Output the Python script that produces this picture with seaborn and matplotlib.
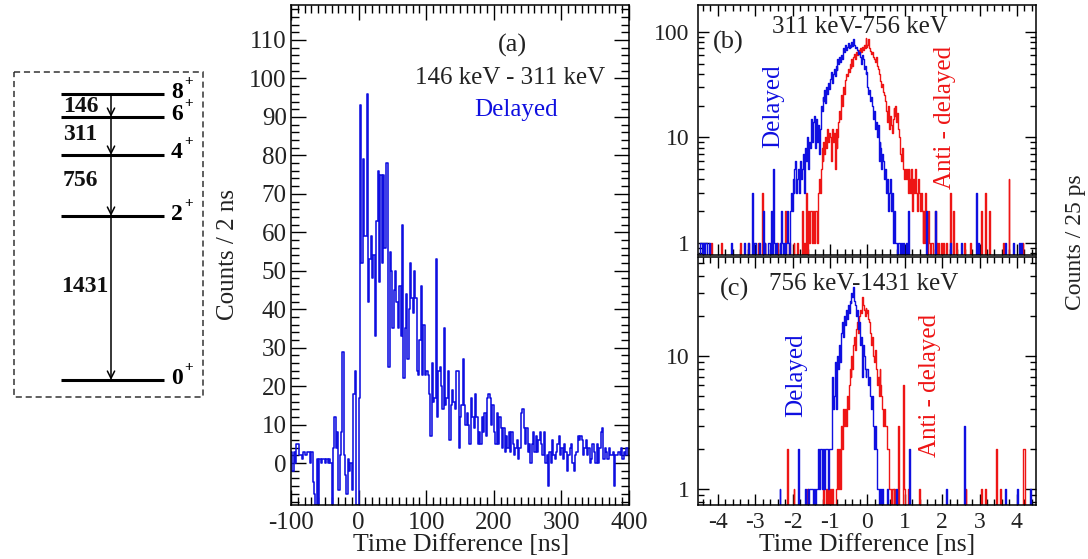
import numpy as np
import pandas as pd
import matplotlib
matplotlib.use("Agg")
import matplotlib.pyplot as plt
import seaborn as sns
from matplotlib.ticker import (MultipleLocator, LogLocator, NullFormatter,
                               FuncFormatter, FixedLocator)
from matplotlib.patches import Rectangle

# ---------------------------------------------------------------- data
# (a) 146-311 keV time difference, 2 ns bins starting at -100 ns
a_start, a_width = -100.0, 2.0
a_counts = [
    3, -2, 3, 0, 5, 5, 2, 2, 1, 3,
    2, 2, 3, 3, 0, 3, -5, -8, -11, 1,
    -11, 1, 0, 1, 1, 0, 1, 0, 1, 0,
    -11, 4, 12, 4, 8, -7, 2, 8, 29, 2,
    -3, -8, 1, -2, 0, -7, 18, 24, -11, -11,
    17, 93, 52, 79, 59, 59, 96, 42, 53, 59,
    48, 54, 33, 63, 76, 47, 75, 52, 75, 56,
    78, 78, 25, 55, 50, 35, 45, 50, 42, 35,
    46, 33, 62, 22, 35, 44, 27, 40, 52, 43,
    39, 50, 43, 24, 23, 32, 46, 23, 36, 23,
    24, 23, 18, 7, 26, 16, 17, 53, 12, 24,
    25, 20, 14, 35, 15, 17, 24, 6, 15, 19,
    16, 14, 24, 24, 4, 12, 15, 27, 15, 10,
    13, 10, 5, 17, 12, 9, 18, 12, 5, 8,
    5, 12, 8, 13, 7, 17, 18, 17, 10, 15,
    8, 5, 13, 5, 12, 9, 4, 9, 3, 7,
    4, 8, 3, 8, 5, 2, 4, 6, 1, 4,
    13, 14, 9, 5, 9, 3, 5, 0, 5, 8,
    3, 7, 3, 6, 8, 5, 2, 8, 0, 2,
    -6, 3, 0, 6, 2, 1, 3, 5, 7, 2,
    4, 1, 5, 3, -2, 2, 4, 5, 0, -2,
    2, 3, 7, 6, 7, 6, 2, 4, 6, 2,
    4, 0, 1, 5, 3, 0, 5, 0, 4, 8,
    9, 1, 4, 3, 1, 4, 2, 2, 3, -6,
    2, 2, 3, 2, 4, 1, 3, 2, 4, 2,
]

# (b), (c) fast-timing spectra, 25 ps bins starting at -4.5 ns
bc_start, bc_width = -4.5, 0.025
b_delayed = [
    0, 1, 1, 0, 1, 0, 1, 1, 0, 0, 0, 1, 0, 0, 0, 0, 0, 0, 0, 0,
    0, 0, 0, 0, 0, 0, 0, 0, 0, 0, 0, 0, 0, 0, 1, 0, 0, 0, 0, 0,
    0, 0, 0, 0, 0, 0, 0, 0, 1, 0, 0, 0, 1, 0, 0, 0, 0, 3, 0, 1,
    1, 0, 0, 0, 1, 0, 0, 0, 2, 0, 1, 0, 0, 0, 1, 1, 0, 2, 0, 5,
    1, 0, 1, 0, 0, 0, 1, 0, 2, 1, 0, 1, 0, 1, 2, 1, 0, 2, 3, 2,
    4, 3, 5, 6, 3, 4, 5, 3, 6, 4, 5, 7, 3, 8, 6, 10, 7, 5, 9, 8,
    15, 9, 14, 16, 8, 15, 9, 13, 7, 12, 20, 18, 24, 22, 28, 21, 30, 26, 33, 29,
    36, 42, 33, 40, 45, 38, 48, 44, 55, 50, 58, 52, 60, 56, 70, 65, 75, 68, 72, 78,
    70, 75, 72, 80, 74, 85, 76, 70, 72, 68, 62, 65, 58, 50, 60, 55, 45, 48, 40, 42,
    30, 26, 28, 22, 24, 20, 15, 18, 12, 14, 10, 13, 6, 9, 8, 5, 7, 6, 4, 5,
    3, 4, 2, 3, 4, 2, 3, 1, 2, 2, 1, 1, 0, 1, 1, 0, 1, 0, 1, 0,
    0, 1, 0, 2, 0, 0, 0, 0, 0, 0, 0, 0, 0, 0, 0, 0, 0, 0, 0, 0,
    0, 0, 0, 2, 0, 0, 0, 0, 0, 0, 0, 0, 2, 0, 0, 0, 0, 0, 0, 0,
    0, 0, 0, 0, 0, 0, 0, 0, 1, 0, 0, 0, 0, 0, 0, 0, 0, 0, 0, 0,
    1, 0, 0, 0, 0, 0, 0, 0, 0, 0, 0, 0, 0, 0, 0, 0, 3, 0, 1, 0,
    0, 0, 0, 0, 0, 0, 0, 0, 0, 0, 0, 0, 0, 0, 0, 0, 0, 0, 0, 0,
    0, 0, 0, 0, 0, 0, 0, 1, 0, 0, 0, 0, 0, 0, 0, 0, 1, 0, 0, 0,
    0, 0, 1, 0, 1, 0, 0, 0, 0, 0, 0, 0, 0, 0, 0, 0, 0, 0, 0, 0,
]
b_anti = [
    0, 0, 0, 0, 0, 0, 0, 0, 0, 0, 0, 0, 0, 1, 0, 0, 0, 0, 0, 0,
    0, 0, 0, 1, 0, 0, 0, 0, 0, 0, 0, 0, 0, 0, 0, 0, 0, 0, 0, 0,
    0, 0, 0, 0, 1, 0, 0, 0, 0, 0, 0, 0, 1, 0, 0, 0, 0, 0, 0, 0,
    0, 0, 0, 1, 0, 0, 0, 3, 0, 0, 1, 0, 0, 0, 0, 0, 0, 0, 0, 0,
    0, 0, 0, 1, 0, 0, 0, 0, 0, 0, 0, 0, 2, 0, 0, 0, 1, 0, 0, 0,
    0, 1, 0, 0, 0, 1, 0, 0, 0, 0, 2, 0, 1, 0, 3, 0, 1, 2, 1, 2,
    2, 1, 2, 1, 2, 2, 1, 3, 4, 3, 5, 8, 6, 9, 7, 10, 8, 12, 9, 11,
    10, 6, 12, 9, 11, 5, 12, 8, 10, 14, 18, 15, 25, 20, 30, 26, 35, 40, 38, 45,
    42, 50, 46, 55, 48, 58, 62, 56, 64, 60, 68, 62, 70, 65, 72, 68, 75, 70, 88, 72,
    75, 85, 70, 66, 62, 65, 58, 55, 52, 58, 48, 45, 40, 36, 34, 30, 32, 27, 25, 22,
    18, 14, 20, 12, 16, 13, 11, 15, 19, 16, 20, 14, 17, 12, 10, 7, 6, 8, 5, 4,
    5, 4, 5, 3, 5, 4, 3, 5, 2, 4, 3, 5, 3, 2, 4, 3, 2, 3, 2, 1,
    2, 1, 3, 1, 0, 2, 1, 0, 1, 1, 0, 0, 2, 0, 1, 0, 1, 0, 0, 1,
    0, 1, 0, 0, 1, 0, 0, 0, 3, 0, 0, 0, 2, 0, 0, 1, 0, 0, 0, 0,
    0, 0, 0, 1, 0, 0, 0, 0, 0, 0, 1, 0, 0, 0, 0, 0, 0, 0, 0, 0,
    0, 0, 2, 0, 0, 0, 3, 0, 0, 0, 2, 0, 0, 0, 0, 0, 0, 0, 0, 0,
    0, 0, 0, 0, 0, 1, 0, 0, 0, 0, 0, 4, 0, 0, 0, 0, 0, 0, 0, 0,
    0, 0, 0, 0, 0, 0, 1, 0, 0, 0, 0, 0, 0, 0, 0, 0, 0, 0, 0, 0,
]
c_delayed = [
    0, 0, 0, 0, 0, 0, 0, 0, 0, 0, 0, 0, 0, 0, 0, 0, 0, 0, 0, 0,
    0, 0, 0, 0, 0, 0, 0, 0, 0, 0, 0, 0, 0, 0, 0, 0, 0, 0, 0, 0,
    0, 0, 0, 0, 0, 0, 0, 0, 0, 0, 0, 0, 0, 0, 0, 0, 0, 0, 0, 0,
    0, 0, 0, 0, 0, 0, 0, 0, 0, 0, 0, 0, 0, 0, 0, 0, 0, 0, 0, 0,
    0, 0, 0, 0, 0, 0, 1, 0, 0, 0, 0, 0, 0, 0, 0, 0, 0, 0, 0, 0,
    0, 0, 0, 0, 0, 0, 2, 0, 0, 0, 0, 0, 0, 1, 0, 0, 1, 0, 1, 1,
    1, 1, 0, 1, 0, 1, 1, 2, 1, 2, 2, 1, 2, 2, 1, 2, 2, 2, 1, 2,
    2, 2, 7, 4, 5, 9, 4, 6, 10, 8, 12, 9, 15, 18, 14, 20, 17, 22, 19, 24,
    21, 26, 25, 30, 28, 33, 26, 24, 20, 22, 16, 18, 12, 14, 7, 12, 10, 8, 7, 8,
    8, 6, 7, 5, 4, 5, 3, 2, 3, 2, 1, 1, 0, 1, 1, 0, 1, 0, 0, 0,
    0, 1, 0, 0, 0, 0, 0, 0, 0, 0, 0, 1, 0, 0, 0, 0, 0, 0, 0, 0,
    0, 0, 0, 0, 0, 2, 0, 0, 0, 0, 0, 0, 0, 0, 0, 0, 0, 0, 0, 0,
    0, 0, 0, 0, 0, 0, 0, 0, 0, 0, 0, 0, 0, 0, 0, 0, 0, 0, 0, 0,
    0, 0, 0, 0, 1, 0, 0, 0, 0, 0, 0, 0, 0, 0, 0, 0, 0, 0, 0, 0,
    0, 0, 0, 3, 0, 0, 0, 0, 0, 0, 0, 0, 0, 0, 0, 0, 0, 0, 0, 0,
    0, 0, 0, 0, 0, 0, 0, 0, 0, 0, 0, 0, 0, 0, 0, 0, 0, 0, 0, 0,
    0, 0, 0, 0, 0, 0, 0, 1, 0, 0, 0, 0, 0, 0, 0, 0, 0, 0, 0, 0,
    1, 0, 0, 0, 0, 0, 0, 0, 0, 0, 0, 0, 0, 0, 1, 0, 0, 0, 0, 0,
]
c_anti = [
    0, 0, 0, 0, 0, 0, 0, 0, 0, 0, 0, 0, 0, 0, 0, 0, 0, 0, 0, 0,
    0, 0, 0, 0, 0, 0, 0, 0, 0, 0, 0, 0, 0, 0, 0, 0, 0, 0, 0, 0,
    0, 0, 0, 0, 0, 0, 0, 0, 0, 0, 0, 0, 0, 0, 0, 0, 0, 0, 0, 0,
    0, 0, 0, 0, 0, 0, 0, 0, 0, 0, 0, 0, 0, 0, 0, 0, 0, 0, 0, 0,
    0, 0, 0, 0, 0, 0, 0, 0, 0, 0, 0, 0, 0, 0, 2, 0, 0, 0, 0, 0,
    0, 1, 0, 0, 0, 0, 0, 0, 0, 0, 0, 0, 0, 0, 0, 1, 0, 0, 0, 0,
    0, 0, 0, 0, 0, 0, 0, 0, 0, 0, 0, 0, 0, 1, 0, 0, 1, 0, 1, 0,
    1, 0, 1, 0, 0, 0, 1, 1, 2, 1, 2, 1, 3, 2, 4, 3, 4, 3, 5, 4,
    6, 8, 7, 10, 8, 12, 14, 11, 16, 18, 15, 20, 22, 21, 28, 24, 22, 20, 23, 21,
    22, 19, 18, 15, 12, 14, 10, 9, 11, 8, 6, 7, 5, 8, 6, 5, 4, 3, 4, 3,
    3, 2, 2, 1, 1, 0, 1, 1, 0, 1, 0, 0, 0, 3, 0, 0, 0, 0, 6, 1,
    0, 0, 0, 1, 0, 0, 0, 0, 0, 0, 0, 0, 0, 0, 0, 1, 0, 0, 0, 0,
    0, 0, 0, 0, 0, 0, 0, 0, 0, 0, 0, 0, 0, 0, 0, 0, 0, 0, 0, 0,
    0, 0, 0, 0, 0, 0, 0, 0, 0, 0, 0, 0, 0, 0, 0, 0, 0, 0, 0, 0,
    0, 0, 0, 0, 0, 1, 0, 0, 0, 0, 0, 0, 0, 0, 0, 0, 0, 0, 0, 0,
    0, 0, 1, 0, 0, 0, 1, 0, 0, 0, 0, 0, 0, 0, 0, 0, 0, 0, 2, 0,
    0, 0, 1, 0, 0, 0, 0, 0, 0, 0, 0, 0, 0, 0, 0, 0, 0, 0, 0, 0,
    0, 0, 0, 0, 0, 0, 0, 2, 2, 0, 0, 0, 0, 0, 0, 0, 0, 0, 0, 0,
]

# level scheme
level_spins = ["0", "2", "4", "6", "8"]
gamma_energies = ["146", "311", "756", "1431"]

# ---------------------------------------------------------------- style
sns.set_theme(style="white")
plt.rcParams["font.family"] = ["Liberation Serif", "DejaVu Serif"]
plt.rcParams["axes.edgecolor"] = "black"
plt.rcParams["axes.linewidth"] = 1.1

BLUE = "#0f0fe0"
RED = "#ee1515"
TXT = "#222222"
FS = 18

fig = plt.figure(figsize=(10.88, 5.59), dpi=100)


def draw_hist(ax, start, width, counts, color, lw):
    """ROOT-like outline histogram: one step per bin edge."""
    counts = np.asarray(counts, dtype=float)
    edges = start + width * np.arange(len(counts) + 1)
    df = pd.DataFrame({"edge": edges,
                       "count": np.append(counts, counts[-1])})
    sns.lineplot(data=df, x="edge", y="count", drawstyle="steps-post",
                 estimator=None, sort=False, color=color, linewidth=lw,
                 ax=ax)


def root_ticks(ax, major_len, minor_len):
    ax.tick_params(which="both", direction="in", top=True, right=True,
                   bottom=True, left=True, colors="black",
                   labelcolor=TXT, labelsize=FS - 1)
    ax.tick_params(which="major", length=major_len, width=1.0)
    ax.tick_params(which="minor", length=minor_len, width=1.0)
    ax.set_xlabel("")
    ax.set_ylabel("")
    for s in ax.spines.values():
        s.set_visible(True)
        s.set_color("black")


int_fmt = FuncFormatter(lambda v, _: f"{v:g}")

# ---------------------------------------------------------------- (a)
ax_a = fig.add_axes([291 / 1088, 1 - 505 / 559, 338 / 1088, 500 / 559])
draw_hist(ax_a, a_start, a_width, a_counts, BLUE, 1.15)
ax_a.set_xlim(-100, 400)
ax_a.set_ylim(-10.9, 119.1)
ax_a.xaxis.set_major_locator(MultipleLocator(100))
ax_a.xaxis.set_minor_locator(MultipleLocator(10))
ax_a.yaxis.set_major_locator(FixedLocator(np.arange(0, 111, 10)))
ax_a.yaxis.set_minor_locator(MultipleLocator(2))
ax_a.xaxis.set_major_formatter(int_fmt)
ax_a.yaxis.set_major_formatter(int_fmt)
root_ticks(ax_a, 11, 5.5)
ax_a.tick_params(axis="x", pad=5, labelsize=FS)
ax_a.tick_params(axis="y", pad=3, labelsize=FS)
ax_a.text(0.654, 0.92, "(a)", transform=ax_a.transAxes, ha="center",
          va="center", fontsize=FS + 1, color=TXT)
ax_a.text(0.648, 0.853, "146 keV - 311 keV", transform=ax_a.transAxes,
          ha="center", va="center", fontsize=FS, color=TXT)
ax_a.text(0.665, 0.79, "Delayed", transform=ax_a.transAxes, ha="center",
          va="center", fontsize=FS, color=BLUE)

# ---------------------------------------------------------------- (b), (c)
def fast_panel(rect, delayed, anti, ylim, show_xlabels):
    ax = fig.add_axes(rect)
    draw_hist(ax, bc_start, bc_width, anti, RED, 1.0)
    draw_hist(ax, bc_start, bc_width, delayed, BLUE, 1.0)
    ax.set_yscale("log")
    ax.set_xlim(-4.53, 4.51)
    ax.set_ylim(*ylim)
    ax.xaxis.set_major_locator(MultipleLocator(1))
    ax.xaxis.set_minor_locator(MultipleLocator(0.2))
    ax.yaxis.set_major_locator(LogLocator(base=10, numticks=10))
    ax.yaxis.set_minor_locator(LogLocator(base=10, subs=np.arange(2, 10),
                                          numticks=20))
    ax.yaxis.set_major_formatter(int_fmt)
    ax.yaxis.set_minor_formatter(NullFormatter())
    ax.xaxis.set_major_formatter(int_fmt)
    root_ticks(ax, 8, 4)
    ax.tick_params(axis="y", pad=6)
    ax.tick_params(axis="x", pad=5, labelbottom=show_xlabels)
    return ax


ax_b = fast_panel([698 / 1088, 1 - 255 / 559, 338 / 1088, 250 / 559],
                  b_delayed, b_anti, (0.77, 180), False)
ax_b.text(0.089, 0.85, "(b)", transform=ax_b.transAxes, ha="center",
          va="center", fontsize=FS + 1, color=TXT)
ax_b.text(0.479, 0.913, "311 keV-756 keV", transform=ax_b.transAxes,
          ha="center", va="center", fontsize=FS, color=TXT)
ax_b.text(0.223, 0.596, "Delayed", transform=ax_b.transAxes, ha="center",
          va="center", rotation=90, fontsize=FS, color=BLUE)
ax_b.text(0.731, 0.55, "Anti - delayed", transform=ax_b.transAxes,
          ha="center", va="center", rotation=90, fontsize=FS, color=RED)

ax_c = fast_panel([698 / 1088, 1 - 505 / 559, 338 / 1088, 248 / 559],
                  c_delayed, c_anti, (0.758, 55.5), True)
ax_c.text(0.109, 0.871, "(c)", transform=ax_c.transAxes, ha="center",
          va="center", fontsize=FS + 1, color=TXT)
ax_c.text(0.491, 0.891, "756 keV-1431 keV", transform=ax_c.transAxes,
          ha="center", va="center", fontsize=FS, color=TXT)
ax_c.text(0.292, 0.524, "Delayed", transform=ax_c.transAxes, ha="center",
          va="center", rotation=90, fontsize=FS, color=BLUE)
ax_c.text(0.686, 0.484, "Anti - delayed", transform=ax_c.transAxes,
          ha="center", va="center", rotation=90, fontsize=FS, color=RED)

# axis titles
fig.text(228 / 1088, 1 - 255 / 559, "Counts / 2 ns", rotation=90,
         ha="center", va="center", fontsize=FS, color=TXT)
fig.text(461 / 1088, 1 - 545 / 559, "Time Difference [ns]", ha="center",
         va="center", fontsize=FS + 0.5, color=TXT)
fig.text(867 / 1088, 1 - 545 / 559, "Time Difference [ns]", ha="center",
         va="center", fontsize=FS + 0.5, color=TXT)
fig.text(1075 / 1088, 1 - 242 / 559, "Counts / 25 ps", rotation=90,
         ha="center", va="center", fontsize=FS - 1, color=TXT)

# ---------------------------------------------------------------- level scheme
ax_l = fig.add_axes([0, 0, 0.2, 1])
ax_l.set_xlim(0, 217.6)
ax_l.set_ylim(559, 0)
ax_l.axis("off")

ax_l.add_patch(Rectangle((14, 72), 189, 325, fill=False, lw=1.1,
                         ls=(0, (4, 2.5)), edgecolor="#333333"))

level_heights = [380, 216, 155, 117, 94]
for spin, yl in zip(level_spins, level_heights):
    ax_l.plot([61, 164], [yl, yl], color="black", lw=2.2,
              solid_capstyle="butt")
    ax_l.text(171, yl - 2, spin, fontsize=17, fontweight="bold",
              va="center", ha="left", color="black")
    ax_l.text(184, yl - 13, "+", fontsize=11, fontweight="bold",
              va="center", ha="left", color="black")

arrow_x = 111
for top, bottom in zip(level_heights[:0:-1], level_heights[-2::-1]):
    ax_l.annotate("", xy=(arrow_x, bottom), xytext=(arrow_x, top),
                  arrowprops=dict(arrowstyle="->", lw=1.1, color="black",
                                  mutation_scale=13, shrinkA=0, shrinkB=0))

label_pos = [(63, 106), (63, 135), (63, 181), (61, 287)]
for text, (xl, yl) in zip(gamma_energies, label_pos):
    ax_l.text(xl, yl, text, fontsize=17, fontweight="bold", va="center",
              ha="left", color="#111111")

fig.savefig("out.png", dpi=100)
